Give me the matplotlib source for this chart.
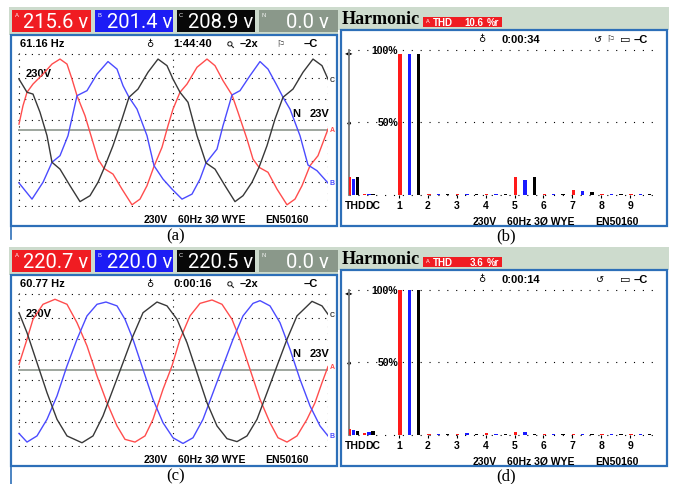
import numpy as np
import matplotlib
matplotlib.use("Agg")
import matplotlib.pyplot as plt
from matplotlib.patches import Rectangle

# ── readings off the analyser screens ────────────────────────────────────────
# header meters A, B, C, N (volts)
meter_top = [215.6, 201.4, 208.9, 0.0]
meter_bot = [220.7, 220.0, 220.5, 0.0]
freq_top, freq_bot = "61.16", "60.77"
clock_a, clock_c = "1:44:40", "0:00:16"
clock_b, clock_d = "0:00:34", "0:00:14"
thd_b, thd_d = 10.6, 3.6

# scope traces (a): time in ms, voltage in V
a_red_t = [0.1, 0.5, 0.9, 1.5, 2.5, 3.4, 4.2, 4.9, 5.4, 5.9, 6.7, 7.4, 8.0, 8.6, 9.5, 10.4, 11.4, 12.2, 12.9, 13.6, 14.4,
           15.0, 15.5, 16.2, 16.9, 17.9, 18.9, 19.7, 20.5, 21.4, 22.0, 22.9, 23.5, 24.1, 25.0, 25.9, 26.9, 27.7, 28.4,
           29.2, 30.0, 31.0]
a_red_v = [26, 107, 166, 202, 246, 290, 312, 290, 224, 151, 63, -40, -128, -169, -194, -260, -329, -304, -245, -160, -76,
           19, 92, 166, 202, 276, 312, 283, 217, 154, 78, -40, -128, -164, -186, -260, -329, -304, -245, -157, -113, 4]
a_blue_t = [0.1, 1.4, 2.5, 3.4, 4.2, 5.0, 5.9, 6.9, 7.9, 9.0, 9.9, 10.5, 11.1, 11.9, 12.9, 13.6, 14.5, 15.4, 16.4, 17.4,
            18.2, 18.8, 19.9, 20.5, 21.4, 22.2, 23.2, 24.2, 25.0, 25.9, 26.5, 27.2, 28.2, 29.0, 29.9, 31.0]
a_blue_v = [-233, -304, -230, -142, -113, -25, 151, 173, 246, 301, 268, 195, 144, 92, -25, -157, -216, -260, -304, -282,
            -216, -145, -84, 19, 154, 173, 239, 301, 268, 195, 144, 92, -25, -154, -179, -233]
a_black_t = [0.1, 0.5, 0.9, 1.5, 2.2, 2.9, 3.4, 4.2, 5.2, 6.2, 7.2, 8.0, 8.6, 9.5, 10.4, 11.1, 12.0, 13.0, 14.0, 14.9,
             15.5, 16.2, 17.0, 17.9, 18.8, 19.7, 20.7, 21.7, 22.5, 23.4, 24.1, 24.9, 25.7, 26.5, 27.5, 28.5, 29.5, 30.4, 31.0]
a_black_v = [224, 195, 166, 158, 78, -25, -142, -172, -245, -315, -289, -230, -169, -69, 48, 144, 180, 254, 312, 283,
             224, 166, 122, -25, -145, -172, -245, -315, -289, -230, -164, -69, 48, 144, 180, 254, 312, 283, 224]

# scope traces (c)
c_red_t = [0.1, 0.9, 1.5, 2.5, 3.7, 4.9, 5.9, 6.9, 7.9, 8.9, 9.9, 10.7, 11.7, 12.7, 13.5, 14.5, 15.4, 16.2, 17.2, 18.2,
           19.4, 20.4, 21.4, 22.2, 23.2, 24.2, 25.2, 26.0, 26.9, 27.9, 28.9, 29.7, 30.4, 31.0]
c_red_v = [25, 135, 223, 289, 311, 289, 208, 106, -26, -144, -246, -305, -317, -290, -217, -85, 18, 135, 238, 293,
           308, 289, 223, 135, 3, -129, -232, -298, -317, -290, -217, -144, -56, 15]
c_blue_t = [0.1, 0.9, 1.9, 2.9, 3.9, 4.9, 5.9, 6.9, 7.9, 8.8, 9.9, 10.7, 11.5, 12.5, 13.5, 14.5, 15.5, 16.5, 17.5, 18.5,
            19.5, 20.5, 21.5, 22.5, 23.5, 24.2, 25.2, 26.2, 27.2, 28.2, 29.2, 30.2, 31.0]
c_blue_v = [-279, -317, -290, -217, -114, 18, 135, 238, 289, 299, 282, 223, 135, 3, -129, -232, -298, -323, -298, -217,
            -100, 18, 135, 238, 293, 305, 282, 208, 91, -41, -158, -246, -290]
c_black_t = [0.1, 0.9, 1.9, 2.9, 3.9, 4.9, 6.4, 7.5, 8.5, 9.5, 10.5, 11.5, 12.5, 13.9, 14.9, 15.9, 16.9, 17.9, 18.9,
             19.9, 20.9, 21.9, 22.9, 23.9, 24.9, 25.9, 26.9, 27.9, 29.4, 30.4, 31.0]
c_black_v = [252, 164, 32, -100, -217, -290, -320, -290, -202, -85, 32, 150, 252, 299, 282, 223, 120, -12, -144, -246,
             -302, -315, -290, -217, -100, 18, 135, 238, 302, 282, 245]

# harmonic spectra, % of fundamental
orders = ["THD", "DC", "1", "2", "3", "4", "5", "6", "7", "8", "9"]
b_red = [12.0, 0.4, 97, 0.5, 0.3, 0.6, 11.9, 0.3, 3.4, 0.3, 0.2]
b_blue = [11.0, 0.4, 97, 0.3, 0.6, 0.3, 10.3, 0.3, 2.5, 0.2, 0.2]
b_black = [12.5, 0.3, 97, 0.3, 0.2, 0.2, 11.9, 0.6, 2.0, 0.3, 0.2]
d_red = [3.6, 1.5, 100, 0.4, 0.4, 1.0, 1.6, 0.3, 0.5, 0.3, 0.2]
d_blue = [3.2, 2.2, 100, 0.6, 1.0, 0.8, 1.6, 0.3, 0.5, 0.3, 0.2]
d_black = [2.4, 2.7, 100, 0.3, 0.3, 0.5, 0.8, 0.4, 0.3, 0.5, 0.2]

# ── styling ──────────────────────────────────────────────────────────────────
W, H = 673, 485
BAND = "#cddbcd"
FRAME = "#2d6fb8"
BOX = ["#f01c22", "#1c1cf5", "#080808", "#8a988a"]
WAVE = ["#ff4d4d", "#4b4bff", "#383838"]
BARC = ["#ff1a1a", "#1a1aff", "#000000"]
LCD = ["Roboto", "DejaVu Sans"]
SANS = ["Liberation Sans", "DejaVu Sans"]
SERIF = ["Liberation Serif", "DejaVu Serif"]
DOTS = (0, (1, 5))

fig = plt.figure(figsize=(W / 100, H / 100), dpi=100, facecolor="white")
bg = fig.add_axes([0, 0, 1, 1])
bg.set_xlim(0, W)
bg.set_ylim(H, 0)
bg.axis("off")


def px_axes(x0, y0, x1, y1):
    ax = fig.add_axes([x0 / W, 1 - y1 / H, (x1 - x0) / W, (y1 - y0) / H])
    ax.set_facecolor("none")
    return ax


def btext(x, y, s, size=8, **kw):
    kw.setdefault("va", "center")
    bg.text(x, y, s, size=size, family=SANS, weight="bold", **kw)


def scope(dy, meters, freq, clock, flag, traces, cap):
    bg.add_patch(Rectangle((9.3, 8.3 + dy), 329, 27.4, color=BAND, lw=0))
    boxes = [(12.3, 90.7), (94.7, 172.7), (176.7, 255), (259.3, 337.7)]
    right = [88.5, 172, 253.5, 329]
    for (x0, x1), r, col, val, tag in zip(boxes, right, BOX, meters, "ABCN"):
        bg.add_patch(Rectangle((x0, 11 + dy), x1 - x0, 21.7, color=col, lw=0))
        bg.text(x0 + 2.3, 15.2 + dy, tag, size=4.2, color="#f4f4f4", family=SANS, va="center")
        bg.text(r, 22.8 + dy, f"{val:.1f} v", size=14.5, color="white", family=LCD,
                ha="right", va="center")
    bg.add_patch(Rectangle((11, 35.7 + dy), 325.7, 191, fc="white", ec=FRAME, lw=1.6))
    bg.plot([11, 11], [226.7 + dy, 240 + dy + (5 if dy else 0)], color=FRAME, lw=1.2)

    y = 44.3 + dy
    btext(20, y, f"{freq} Hz")
    bg.text(150, y - 0.5, "♁", size=7, ha="center", va="center", family="DejaVu Sans")
    btext(173.3, y, clock)
    bg.text(231, y, "⚲", size=7, ha="center", va="center", family="DejaVu Sans", rotation=45)
    btext(239.5, y, "–2x")
    if flag:
        bg.text(281, y, "⚐", size=6.5, ha="center", va="center", family="DejaVu Sans")
    btext(311, y, "–C", ha="center")

    ax = px_axes(18, 53.7 + dy, 328, 208.3 + dy)
    ax.set_xlim(0, 31)
    ax.set_ylim(-340, 340)
    ax.set_xticks([0.05, 15.5, 30.95])
    ax.set_yticks([-336, -229, -137, -46, 46, 137, 229, 336])
    ax.grid(True, color="black", linestyle=DOTS, linewidth=0.8)
    ax.tick_params(length=0, labelbottom=False, labelleft=False)
    for s in ax.spines.values():
        s.set_visible(False)
    ax.axhline(meters[3], color="#9ea69e", lw=1.4, zorder=1)
    for (t, v), col, tag in zip(traces, WAVE, "ABC"):
        ax.plot(t, v, color=col, lw=1.0, zorder=3)
        ax.text(t[-1] + 0.15, v[-1], tag, size=5, color=col, family=SANS, weight="bold",
                va="center", clip_on=False)

    btext(26, 74 + dy, "230V")
    btext(292, 114 + dy, "N")
    btext(309.5, 114 + dy, "23V")
    btext(143.3, 220 + dy, "230V", size=7.5)
    btext(178.3, 220 + dy, "60Hz 3Ø WYE", size=7.5)
    btext(265, 220 + dy, "EN50160", size=7.5)
    bg.text(176, 236.5 + dy, cap, size=12, family=SERIF, ha="center", va="center")


def spectrum(dy, thd, clock, flag, phases, cap):
    bg.add_patch(Rectangle((338, 8.3 + dy), 331, 22.4, color=BAND, lw=0))
    bg.text(341.5, 19.8 + dy, "Harmonic", size=13, family=SERIF, weight="bold", va="center")
    bg.add_patch(Rectangle((423.3, 18.3 + dy), 79, 9.4, color=BOX[0], lw=0))
    bg.text(426, 21.5 + dy, "A", size=4, color="white", family=SANS, va="center")
    btext(432.5, 23.2 + dy, "THD", size=7, color="white")
    btext(483.5, 23.2 + dy, f"{thd:.1f}", size=7, color="white", ha="right")
    btext(486.3, 23.2 + dy, "%r", size=7, color="white")
    bg.add_patch(Rectangle((340.5, 30.7 + dy), 326, 196, fc="white", ec=FRAME, lw=1.6))

    y = 40 + dy
    bg.text(481.7, y - 0.5, "♁", size=7, ha="center", va="center", family="DejaVu Sans")
    btext(502, y, clock)
    bg.text(598 if flag else 600, y, "↺", size=7, ha="center", va="center", family="DejaVu Sans")
    if flag:
        bg.text(611, y, "⚐", size=6.5, ha="center", va="center", family="DejaVu Sans")
    bg.text(625, y, "▭", size=8, ha="center", va="center", family="DejaVu Sans", weight="bold")
    btext(641, y, "–C", ha="center")

    ax = px_axes(348.6, 51 + dy, 660.4, 195.7 + dy)
    ax.set_xlim(-0.75, 10.05)
    ax.set_ylim(0, 100)
    ax.set_yticks([0, 50, 100])
    ax.grid(True, axis="y", color="black", linestyle=(0, (1, 7)), linewidth=0.8)
    for gl in ax.get_ygridlines():
        gl.set_clip_on(False)
    for k in ["top", "right", "bottom"]:
        ax.spines[k].set_visible(False)
    ax.spines["left"].set_color("#7a7a7a")
    ax.spines["left"].set_linewidth(1.3)
    ax.tick_params(axis="y", length=0, labelleft=False)

    slot = np.array([-0.716, -0.19] + [n + 0.03 for n in range(1, 10)])
    step = np.array([0.143, 0.145] + [0.325] * 9)
    for k, (vals, col) in enumerate(zip(phases, BARC)):
        ax.bar(slot + k * step, vals, width=0.115, color=col, lw=0, zorder=3)

    ax.set_xticks(range(1, 10))
    ax.set_xticklabels(orders[2:])
    ax.set_xticks([-0.517, 0.088], minor=True)
    ax.set_xticklabels(orders[:2], minor=True)
    ax.tick_params(axis="x", which="major", length=2.2, width=0.8, pad=1.4, direction="out")
    ax.tick_params(axis="x", which="minor", length=0, pad=3.6)
    for lab in ax.get_xticklabels(which="both"):
        lab.set_fontfamily(SANS)
        lab.set_fontweight("bold")
        lab.set_fontsize(7.5)

    ax.text(0.97, 100, "100%", size=7.5, family=SANS, weight="bold", ha="right", va="center", zorder=4)
    ax.text(0.97, 50, "50%", size=7.5, family=SANS, weight="bold", ha="right", va="center", zorder=4)
    bg.text(349.5, 53 + dy, "◂▸", size=6, ha="center", va="center", family="DejaVu Sans")
    bg.text(349.3, 123.3 + dy, "◆", size=4, ha="center", va="center", family="DejaVu Sans")

    btext(472.7, 221.7 + dy, "230V", size=7.5)
    btext(506.7, 221.7 + dy, "60Hz 3Ø WYE", size=7.5)
    btext(595, 221.7 + dy, "EN50160", size=7.5)
    bg.text(505.8, 236.5 + dy, cap, size=12, family=SERIF, ha="center", va="center")


scope(0, meter_top, freq_top, clock_a, True,
      [(a_red_t, a_red_v), (a_blue_t, a_blue_v), (a_black_t, a_black_v)], "(a)")
spectrum(0, thd_b, clock_b, True, [b_red, b_blue, b_black], "(b)")
scope(240, meter_bot, freq_bot, clock_c, False,
      [(c_red_t, c_red_v), (c_blue_t, c_blue_v), (c_black_t, c_black_v)], "(c)")
spectrum(240, thd_d, clock_d, False, [d_red, d_blue, d_black], "(d)")

fig.savefig("out.png", dpi=100, facecolor="white")
